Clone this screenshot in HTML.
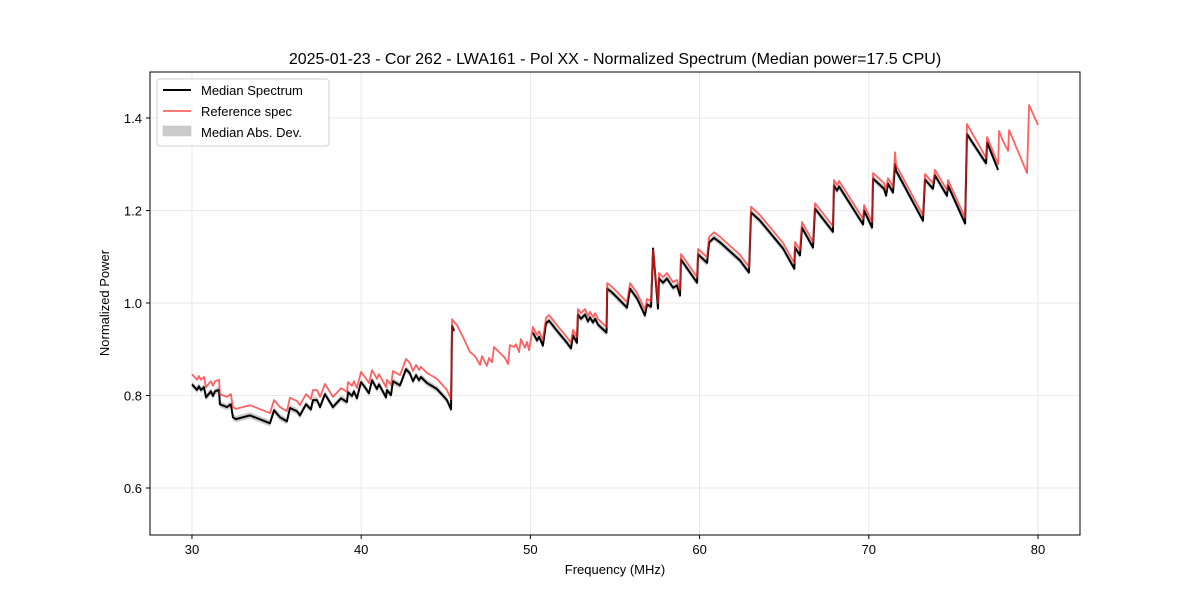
<!DOCTYPE html>
<html><head><meta charset="utf-8"><style>
body{margin:0;background:#fff;}
svg{display:block;font-family:"Liberation Sans","DejaVu Sans",sans-serif;}
</style></head><body>
<svg id="chart" width="1200" height="600" viewBox="0 0 1200 600"></svg>
<script>
const xTicks=[30,40,50,60,70,80];
const yTicks=[0.6,0.8,1.0,1.2,1.4];
const refF=[30.00,30.30,30.41,30.53,30.71,30.83,31.12,31.24,31.36,31.60,31.65,32.07,32.30,32.42,32.60,33.43,34.61,34.85,35.20,35.61,35.79,36.21,36.38,36.74,37.03,37.15,37.39,37.57,37.86,38.33,38.81,39.16,39.22,39.46,39.57,39.75,39.99,40.22,40.46,40.64,40.93,41.05,41.47,41.52,41.76,41.88,42.29,42.41,42.65,42.88,43.06,43.24,43.42,43.53,43.89,44.48,45.07,45.31,45.37,45.66,46.02,46.43,46.73,47.02,47.14,47.43,47.55,47.73,47.85,48.09,48.50,48.68,48.79,49.03,49.15,49.33,49.44,49.68,49.80,49.92,50.15,50.39,50.51,50.74,50.92,51.10,51.57,52.16,52.40,52.52,52.75,52.81,52.99,53.23,53.40,53.52,53.70,53.82,54.00,54.50,54.54,54.82,55.12,55.71,55.89,56.30,56.77,56.89,57.13,57.25,57.54,57.60,57.84,58.07,58.43,58.66,58.84,58.90,59.85,59.91,60.44,60.56,60.85,61.21,62.39,62.92,63.04,63.57,64.93,65.60,65.64,65.93,66.05,66.70,66.82,67.88,67.94,68.12,68.24,69.66,69.72,70.19,70.25,70.90,71.02,71.13,71.43,71.55,71.61,73.20,73.32,73.79,73.91,74.62,74.68,75.69,75.80,76.93,76.99,77.64,77.70,77.93,78.23,78.29,79.35,79.47,80.00];
const refV=[0.846,0.834,0.842,0.834,0.840,0.818,0.831,0.821,0.831,0.834,0.803,0.797,0.803,0.775,0.771,0.779,0.762,0.790,0.775,0.766,0.795,0.788,0.779,0.803,0.792,0.812,0.812,0.797,0.825,0.797,0.816,0.808,0.829,0.821,0.831,0.816,0.851,0.840,0.827,0.855,0.836,0.846,0.818,0.834,0.823,0.853,0.844,0.855,0.879,0.870,0.853,0.866,0.855,0.862,0.849,0.836,0.812,0.792,0.965,0.952,0.926,0.894,0.885,0.866,0.885,0.864,0.881,0.872,0.905,0.896,0.881,0.868,0.909,0.905,0.911,0.894,0.922,0.903,0.916,0.898,0.948,0.931,0.939,0.920,0.968,0.974,0.952,0.926,0.914,0.942,0.926,0.987,0.978,0.987,0.972,0.981,0.970,0.978,0.965,0.948,1.043,1.035,1.024,1.002,1.043,1.022,0.985,1.009,1.004,1.115,1.000,1.065,1.056,1.065,1.045,1.050,1.028,1.106,1.056,1.117,1.099,1.143,1.153,1.143,1.104,1.078,1.208,1.190,1.130,1.086,1.132,1.115,1.175,1.132,1.216,1.166,1.266,1.255,1.264,1.182,1.212,1.175,1.281,1.259,1.244,1.270,1.251,1.326,1.298,1.190,1.279,1.259,1.288,1.244,1.266,1.184,1.387,1.314,1.359,1.300,1.372,1.350,1.329,1.374,1.281,1.428,1.385];
const medLowF=[30.00,30.30,30.41,30.53,30.71,30.83,31.12,31.24,31.36,31.60,31.65,32.07,32.30,32.42,32.60,33.43,34.61,34.85,35.20,35.61,35.79,36.21,36.38,36.74,37.03,37.15,37.39,37.57,37.86,38.33,38.81,39.16,39.22,39.46,39.57,39.75,39.99,40.22,40.46,40.64,40.93,41.05,41.47,41.52,41.76,41.88,42.29,42.41,42.65,42.88,43.06,43.24,43.42,43.53,43.89,44.48,45.07,45.31,45.37,45.50];
const medLowV=[0.824,0.812,0.820,0.812,0.818,0.796,0.809,0.799,0.809,0.812,0.781,0.775,0.781,0.753,0.749,0.757,0.740,0.768,0.753,0.744,0.773,0.766,0.757,0.781,0.770,0.790,0.790,0.775,0.803,0.775,0.794,0.786,0.807,0.799,0.809,0.794,0.829,0.818,0.805,0.833,0.814,0.824,0.796,0.812,0.801,0.831,0.822,0.833,0.857,0.848,0.831,0.844,0.833,0.840,0.827,0.814,0.790,0.770,0.950,0.940];
const medHighF=[50.15,50.39,50.51,50.74,50.92,51.10,51.57,52.16,52.40,52.52,52.75,52.81,52.99,53.23,53.40,53.52,53.70,53.82,54.00,54.50,54.54,54.82,55.12,55.71,55.89,56.30,56.77,56.89,57.13,57.25,57.54,57.60,57.84,58.07,58.43,58.66,58.84,58.90,59.85,59.91,60.44,60.56,60.85,61.21,62.39,62.92,63.04,63.57,64.93,65.60,65.64,65.93,66.05,66.70,66.82,67.88,67.94,68.12,68.24,69.66,69.72,70.19,70.25,70.90,71.02,71.13,71.43,71.55,71.61,73.20,73.32,73.79,73.91,74.62,74.68,75.69,75.80,76.93,76.99,77.64];
const medHighV=[0.936,0.919,0.927,0.908,0.956,0.962,0.940,0.914,0.902,0.930,0.914,0.975,0.966,0.975,0.960,0.969,0.958,0.966,0.953,0.936,1.031,1.023,1.012,0.990,1.031,1.010,0.973,0.997,0.992,1.118,0.988,1.053,1.044,1.053,1.033,1.038,1.016,1.094,1.044,1.105,1.087,1.131,1.141,1.131,1.092,1.066,1.196,1.178,1.118,1.074,1.120,1.103,1.163,1.120,1.204,1.154,1.254,1.243,1.252,1.170,1.200,1.163,1.269,1.247,1.232,1.258,1.239,1.300,1.286,1.178,1.267,1.247,1.276,1.232,1.254,1.172,1.365,1.302,1.347,1.288];
const madWidth=[0.007,0.007];

const NS='http://www.w3.org/2000/svg';
const svg=document.getElementById('chart');
const L=150,R=1080,T=72,B=535;
const xMin=27.52,xMax=82.48,yMin=0.4984,yMax=1.4995;
const xs=f=>L+(f-xMin)/(xMax-xMin)*(R-L);
const ys=v=>B-(v-yMin)/(yMax-yMin)*(B-T);
function mk(tag,attrs,parent){const e=document.createElementNS(NS,tag);for(const k in attrs)e.setAttribute(k,attrs[k]);(parent||svg).appendChild(e);return e;}
function txt(s,attrs){const e=mk('text',attrs);e.textContent=s;return e;}

// grid
xTicks.forEach(t=>{const g=mk('line',{x1:xs(t),x2:xs(t),y1:T,y2:B,stroke:'#e3e3e3','stroke-width':0.8});

});
yTicks.forEach(t=>{const g=mk('line',{x1:L,x2:R,y1:ys(t),y2:ys(t),stroke:'#e3e3e3','stroke-width':0.8});

});

function band(F,V,w,name){let up=F.map((f,i)=>xs(f)+','+ys(V[i]+w)).join(' ');let dn=F.map((f,i)=>xs(f)+','+ys(V[i]-w)).reverse().join(' ');
const p=mk('polygon',{points:up+' '+dn,fill:'#999',opacity:0.5});

}
band(medLowF,medLowV,madWidth[0],'mad-band-low');
band(medHighF,medHighV,madWidth[1],'mad-band-high');
function line(F,V,color,w,op,name){const p=mk('polyline',{points:F.map((f,i)=>xs(f)+','+ys(V[i])).join(' '),fill:'none',stroke:color,'stroke-width':w,opacity:op,'stroke-linejoin':'round'});

}
line(medLowF,medLowV,'#000',2,1,'median-spectrum-low');
line(medHighF,medHighV,'#000',2,1,'median-spectrum-high');
line(refF,refV,'#ff2020',1.8,0.7,'reference-spectrum');

// axes frame
const fr=mk('rect',{x:L,y:T,width:R-L,height:B-T,fill:'none',stroke:'#000','stroke-width':1});


xTicks.forEach(t=>{mk('line',{x1:xs(t),x2:xs(t),y1:B,y2:B+4,stroke:'#000'});
const l=txt(String(t),{x:xs(t),y:B+19,'font-size':13,'text-anchor':'middle',fill:'#000'});

});
yTicks.forEach(t=>{mk('line',{x1:L-4,x2:L,y1:ys(t),y2:ys(t),stroke:'#000'});
const l=txt(t.toFixed(1),{x:L-8,y:ys(t)+5,'font-size':13,'text-anchor':'end',fill:'#000'});

});
const xt=txt('Frequency (MHz)',{x:615,y:574,'font-size':13,'text-anchor':'middle'});


const yt=txt('Normalized Power',{x:0,y:0,'font-size':13,'text-anchor':'middle',transform:'translate(109,303) rotate(-90)'});


const tt=txt('2025-01-23 - Cor 262 - LWA161 - Pol XX - Normalized Spectrum (Median power=17.5 CPU)',{x:615,y:64,'font-size':16,'text-anchor':'middle'});



// legend
const lg=mk('g',{});


mk('rect',{x:157,y:79,width:172,height:67,rx:3,fill:'#fff',stroke:'#ccc',opacity:0.9},lg);
mk('line',{x1:163,x2:191,y1:90,y2:90,stroke:'#000','stroke-width':2},lg);
mk('line',{x1:163,x2:191,y1:111,y2:111,stroke:'#ff2020','stroke-width':1.8,opacity:0.7},lg);
mk('rect',{x:163,y:126,width:28,height:10,fill:'#999',opacity:0.5,stroke:'#888','stroke-width':0.5},lg);
[['Median Spectrum',95,'legend-entry-median'],['Reference spec',116,'legend-entry-reference'],['Median Abs. Dev.',137,'legend-entry-mad']].forEach(a=>{const e=mk('text',{x:201,y:a[1],'font-size':13},lg);e.textContent=a[0];

});
</script>
</body></html>
